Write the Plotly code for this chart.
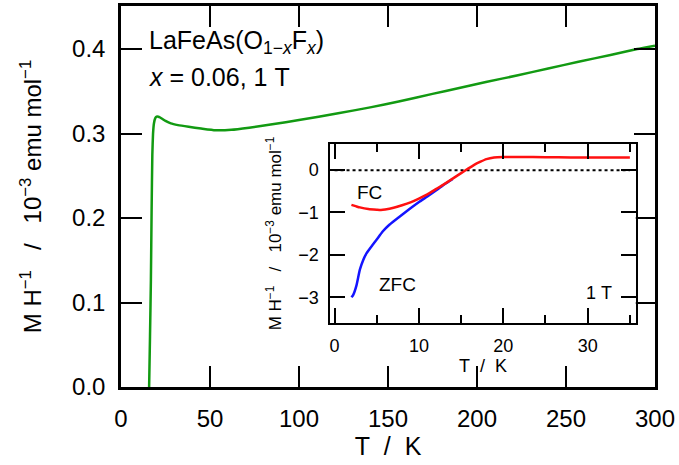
import plotly.graph_objects as go

# ---- data: main panel (green, 1 T) ----
T_main = [15.8, 16.3, 16.8, 17.2, 17.6, 18.0, 18.5, 19.2, 20.0, 21.0, 22.0, 23.5, 25, 28, 32, 38, 45,
          53, 62, 72, 85, 100, 122, 140, 156, 175, 190, 205, 223, 240, 257, 275, 290, 300]
M_main = [0.0, 0.06, 0.127, 0.21, 0.275, 0.300, 0.312, 0.318, 0.320, 0.320, 0.319, 0.317, 0.315,
          0.312, 0.310, 0.308, 0.306, 0.304, 0.3045, 0.307, 0.311, 0.316, 0.324, 0.331,
          0.338, 0.347, 0.354, 0.361, 0.369, 0.377, 0.385, 0.393, 0.400, 0.404]

# ---- data: inset FC (red) ----
T_fc = [2.0, 2.5, 3, 4, 5, 5.5, 6, 7, 8, 9, 10, 11, 12, 13, 14, 15, 15.7, 16.5, 17.3, 18, 18.9,
        20, 22, 25, 28, 31, 35]
M_fc = [-0.82, -0.85, -0.88, -0.92, -0.935, -0.94, -0.93, -0.89, -0.83, -0.76, -0.67, -0.57, -0.45,
        -0.33, -0.20, -0.07, 0.02, 0.12, 0.20, 0.26, 0.30, 0.31, 0.31, 0.305, 0.30, 0.30, 0.30]

# ---- data: inset ZFC (blue) ----
T_zfc = [2.0, 2.2, 2.6, 3.0, 3.4, 3.8, 4.5, 5.0, 5.7, 6.5, 7.7, 9.0, 10.1, 11.0, 12.1, 13.0, 14.0]
M_zfc = [-3.0, -2.95, -2.72, -2.35, -2.12, -1.96, -1.77, -1.64, -1.45, -1.29, -1.10, -0.90, -0.74,
         -0.62, -0.47, -0.34, -0.21]

# zero reference line in inset
T_zero = [0, 35]
M_zero = [0, 0]

main_xticks = [0, 50, 100, 150, 200, 250, 300]
main_yticks = [0.0, 0.1, 0.2, 0.3, 0.4]
main_yticklabels = ["0.0", "0.1", "0.2", "0.3", "0.4"]
inset_xticks = [0, 10, 20, 30]
inset_yticks = [0, -1, -2, -3]
inset_yticklabels = ["0", "\u22121", "\u22122", "\u22123"]

FONT = "Liberation Sans, Arial, sans-serif"
SP = "\u00a0"
YTITLE = ("M" + SP + "H<sup>\u22121</sup>" + SP * 3 + "/" + SP * 3 + "10<sup>\u22123</sup>" + SP
          + "emu" + SP + "mol<sup>\u22121</sup>")
XTITLE = "T" + SP * 2 + "/" + SP * 2 + "K"

fig = go.Figure()
fig.add_trace(go.Scatter(x=T_main, y=M_main, mode="lines",
                         line=dict(color="#129a12", width=2.5, shape="spline", smoothing=0.4),
                         xaxis="x", yaxis="y", showlegend=False))
fig.add_trace(go.Scatter(x=T_zero, y=M_zero, mode="lines",
                         line=dict(color="black", width=2, dash="dot"), xaxis="x2", yaxis="y2",
                         showlegend=False))
fig.add_trace(go.Scatter(x=T_zfc, y=M_zfc, mode="lines",
                         line=dict(color="#1414ff", width=2.5, shape="spline", smoothing=0.5),
                         xaxis="x2", yaxis="y2", showlegend=False))
fig.add_trace(go.Scatter(x=T_fc, y=M_fc, mode="lines",
                         line=dict(color="#ff1010", width=2.5, shape="spline", smoothing=0.5),
                         xaxis="x2", yaxis="y2", showlegend=False))

fig.update_layout(
    width=679, height=465,
    margin=dict(l=121, r=24, t=6, b=78),
    paper_bgcolor="white", plot_bgcolor="white",
    font=dict(family=FONT, color="black"),
    xaxis=dict(range=[0, 300], domain=[0, 1], tickvals=main_xticks, automargin=False,
               ticks="inside", ticklen=21, tickwidth=2, tickcolor="black",
               showline=True, linewidth=2.5, linecolor="black", mirror="ticks",
               showgrid=False, zeroline=False, tickfont=dict(size=24),
               ticklabelstandoff=8,
               title=dict(text=XTITLE, font=dict(size=25), standoff=6)),
    yaxis=dict(range=[0, 0.451], domain=[0, 1], tickvals=main_yticks, ticktext=main_yticklabels,
               automargin=False,
               ticks="inside", ticklen=21, tickwidth=2, tickcolor="black",
               showline=True, linewidth=2.5, linecolor="black", mirror="ticks",
               showgrid=False, zeroline=False, tickfont=dict(size=24),
               ticklabelstandoff=8,
               title=dict(text=YTITLE, font=dict(size=24), standoff=24)),
    xaxis2=dict(range=[-0.5, 35.7], domain=[0.392, 0.964], anchor="y2", tickvals=inset_xticks,
                automargin=False,
                ticks="inside", ticklen=15, tickwidth=2, tickcolor="black",
                minor=dict(dtick=5, tick0=0, ticks="inside", ticklen=8, tickwidth=2, tickcolor="black"),
                showline=True, linewidth=2, linecolor="black", mirror="ticks",
                showgrid=False, zeroline=False, tickfont=dict(size=18),
                ticklabelstandoff=6,
                title=dict(text=XTITLE, font=dict(size=18), standoff=0)),
    yaxis2=dict(range=[-3.6, 0.61], domain=[0.169, 0.637], anchor="x2", tickvals=inset_yticks,
                ticktext=inset_yticklabels, automargin=False,
                ticks="inside", ticklen=15, tickwidth=2, tickcolor="black",
                showline=True, linewidth=2, linecolor="black", mirror="ticks",
                showgrid=False, zeroline=False, tickfont=dict(size=18),
                ticklabelstandoff=6,
                title=dict(text=YTITLE, font=dict(size=17), standoff=12)),
    annotations=[
        dict(xref="paper", yref="paper", x=0.048, y=0.905, xanchor="left", yanchor="middle",
             text="LaFeAs(O<sub>1\u2212<i>x</i></sub>F<sub><i>x</i></sub>)", showarrow=False,
             font=dict(size=25)),
        dict(xref="paper", yref="paper", x=0.048, y=0.814, xanchor="left", yanchor="middle",
             text="<i>x</i>" + SP + "=" + SP + "0.06," + SP + "1" + SP + "T", showarrow=False,
             font=dict(size=25)),
        dict(xref="x2", yref="y2", x=4.2, y=-0.52, text="FC", showarrow=False,
             font=dict(size=19)),
        dict(xref="x2", yref="y2", x=7.5, y=-2.7, text="ZFC", showarrow=False,
             font=dict(size=19)),
        dict(xref="x2", yref="y2", x=31.3, y=-2.9, text="1" + SP + "T", showarrow=False,
             font=dict(size=18)),
    ],
)

fig.write_html("out.html", config={"displayModeBar": False},
               post_script="document.body.style.margin='0';")
